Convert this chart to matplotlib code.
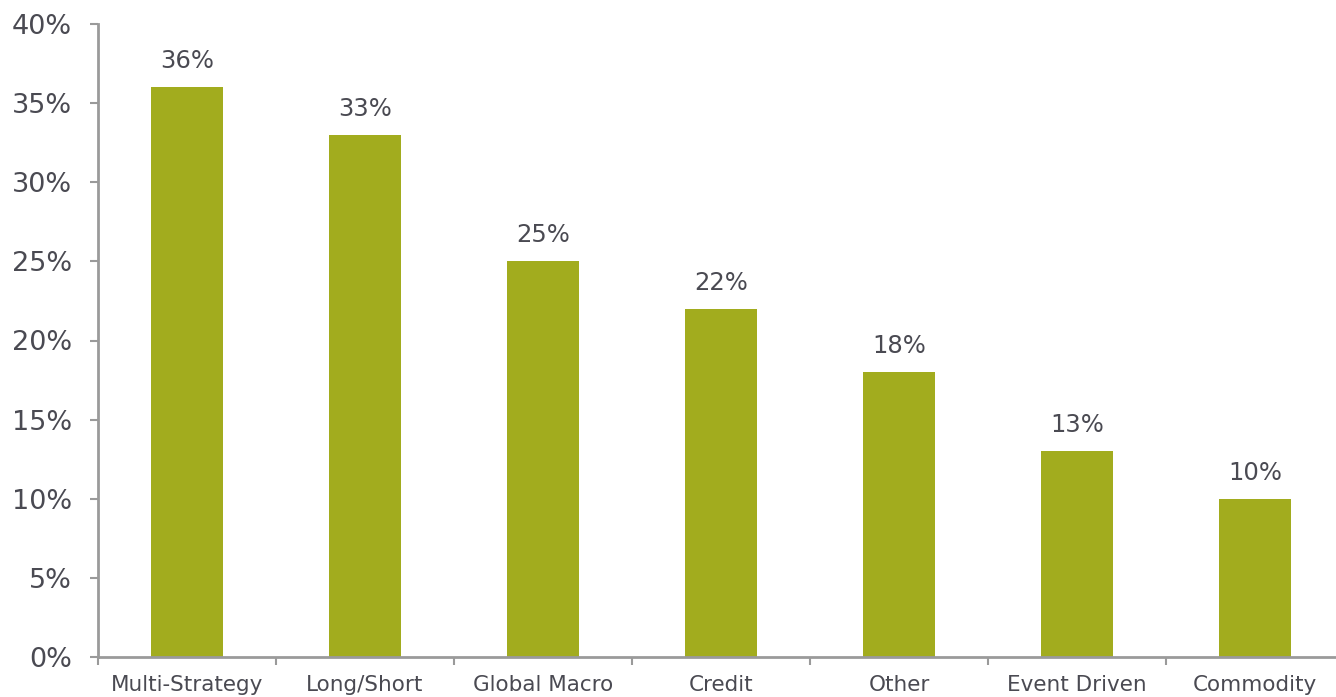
import matplotlib
matplotlib.use("Agg")
import matplotlib.pyplot as plt
from matplotlib.ticker import FixedLocator, NullFormatter

categories = ["Multi-Strategy", "Long/Short", "Global Macro", "Credit", "Other", "Event Driven", "Commodity"]
values = [36, 33, 25, 22, 18, 13, 10]
y_ticks = [0, 5, 10, 15, 20, 25, 30, 35, 40]
y_tick_labels = [f"{t}%" for t in y_ticks]

bar_color = "#A2AC1E"
text_color = "#4A4A52"
axis_color = "#9A9A9A"

fig = plt.figure(figsize=(13.36, 6.97), dpi=100)
ax = fig.add_axes([98/1336, 1-657/697, 1246/1336, (657-24)/697])

x = list(range(len(categories)))
ax.bar(x, values, width=0.4, color=bar_color, zorder=2)
for xi, v in zip(x, values):
    ax.annotate(f"{v}%", (xi, v), xytext=(0, 10), textcoords="offset points",
                ha="center", va="bottom", fontsize=17.5, color=text_color)

ax.set_xlim(-0.5, len(categories) - 0.5)
ax.set_ylim(0, 40)
ax.set_yticks(y_ticks)
ax.set_yticklabels(y_tick_labels, fontsize=19.5, color=text_color)
ax.tick_params(axis="y", length=6, width=1.5, color=axis_color, pad=12.5)

ax.set_xticks(x)
ax.set_xticklabels(categories, fontsize=15.5, color=text_color)
ax.tick_params(axis="x", which="major", length=0, pad=13)
ax.xaxis.set_minor_locator(FixedLocator([i - 0.5 for i in range(len(categories) + 1)]))
ax.xaxis.set_minor_formatter(NullFormatter())
ax.tick_params(axis="x", which="minor", length=6, width=1.5, color=axis_color)

for s in ["top", "right"]:
    ax.spines[s].set_visible(False)
for s in ["left", "bottom"]:
    ax.spines[s].set_color(axis_color)
    ax.spines[s].set_linewidth(2)

fig.savefig("out.png", dpi=100)
